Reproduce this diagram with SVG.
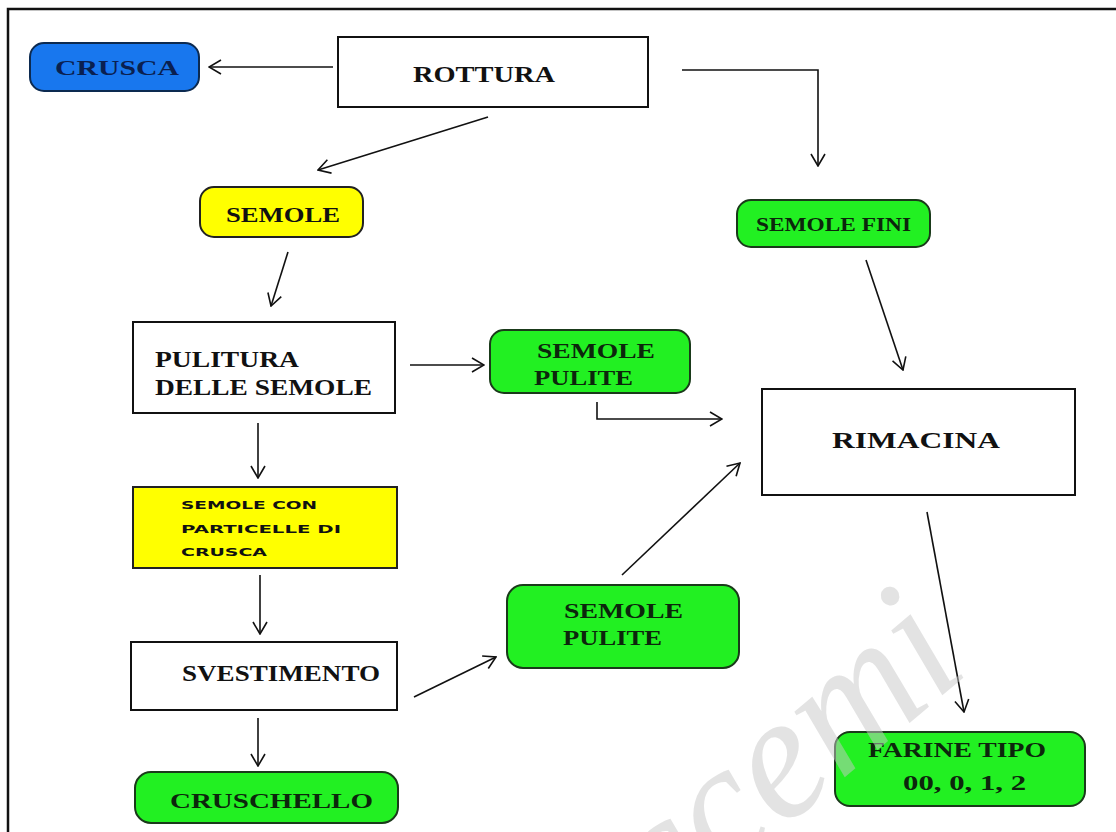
<svg xmlns="http://www.w3.org/2000/svg" width="1116" height="832" viewBox="0 0 1116 832">
<style>
.bg{fill:#ffffff}
.box{fill:#ffffff;stroke:#111;stroke-width:2}
.yel{fill:#ffff00;stroke:#222;stroke-width:2}
.grn{fill:#22f022;stroke:#1a3a1a;stroke-width:2}
.blu{fill:#1877ee;stroke:#0c2a50;stroke-width:2}
.t{font-family:"Liberation Serif","Times New Roman",serif;font-weight:bold;fill:#111}
.tg{font-family:"Liberation Serif","Times New Roman",serif;font-weight:bold;fill:#0c260c}
.tb{font-family:"Liberation Serif","Times New Roman",serif;font-weight:bold;fill:#0a2050}
.ts{font-family:"DejaVu Sans","Liberation Sans",sans-serif;font-weight:bold;fill:#111;font-size:11px}
.c{fill:none;stroke:#111;stroke-width:1.6}
.wm{font-family:"Liberation Serif","Times New Roman",serif;font-style:italic;fill:#c8c8c8;fill-opacity:0.5}
</style>
<defs>
<marker id="ah" markerUnits="userSpaceOnUse" viewBox="0 0 14 16" markerWidth="14" markerHeight="16" refX="13" refY="8" orient="auto">
<path d="M1,1 L13,8 L1,15" fill="none" stroke="#111" stroke-width="1.6"/>
</marker>
</defs>
<rect class="bg" x="0" y="0" width="1116" height="832"/>
<g id="frame">
<path d="M8,832 V9 H1116" fill="none" stroke="#111" stroke-width="2.5"/>
</g>
<g id="connectors">
<line class="c" x1="333" y1="67" x2="209" y2="67" marker-end="url(#ah)"/>
<line class="c" x1="488" y1="117" x2="318" y2="170" marker-end="url(#ah)"/>
<polyline class="c" points="682,70 818,70 818,166" marker-end="url(#ah)"/>
<line class="c" x1="288" y1="252" x2="271" y2="306" marker-end="url(#ah)"/>
<line class="c" x1="410" y1="365" x2="484" y2="365" marker-end="url(#ah)"/>
<polyline class="c" points="597,402 597,419 722,419" marker-end="url(#ah)"/>
<line class="c" x1="866" y1="260" x2="903" y2="370" marker-end="url(#ah)"/>
<line class="c" x1="258" y1="423" x2="258" y2="478" marker-end="url(#ah)"/>
<line class="c" x1="260" y1="575" x2="260" y2="634" marker-end="url(#ah)"/>
<line class="c" x1="622" y1="575" x2="740" y2="463" marker-end="url(#ah)"/>
<line class="c" x1="414" y1="697" x2="496" y2="657" marker-end="url(#ah)"/>
<line class="c" x1="258" y1="718" x2="258" y2="766" marker-end="url(#ah)"/>
<line class="c" x1="927" y1="512" x2="964" y2="712" marker-end="url(#ah)"/>
</g>
<g id="crusca">
<rect class="blu" x="30" y="43" width="169" height="48" rx="14"/>
<text class="tb" x="55" y="75" font-size="21" textLength="124" lengthAdjust="spacingAndGlyphs">CRUSCA</text>
</g>
<g id="rottura">
<rect class="box" x="338" y="37" width="310" height="70"/>
<text class="t" x="413" y="82" font-size="23" textLength="142" lengthAdjust="spacingAndGlyphs">ROTTURA</text>
</g>
<g id="semole">
<rect class="yel" x="200" y="187" width="163" height="50" rx="14"/>
<text class="t" x="226" y="222" font-size="21" textLength="114" lengthAdjust="spacingAndGlyphs">SEMOLE</text>
</g>
<g id="semole-fini">
<rect class="grn" x="737" y="200" width="193" height="47" rx="14"/>
<text class="tg" x="756" y="231" font-size="18" textLength="155" lengthAdjust="spacingAndGlyphs">SEMOLE FINI</text>
</g>
<g id="pulitura">
<rect class="box" x="133" y="322" width="262" height="91"/>
<text class="t" x="155" y="367" font-size="24" textLength="144" lengthAdjust="spacingAndGlyphs">PULITURA</text>
<text class="t" x="155" y="395" font-size="24" textLength="217" lengthAdjust="spacingAndGlyphs">DELLE SEMOLE</text>
</g>
<g id="semole-pulite-1">
<rect class="grn" x="490" y="330" width="200" height="63" rx="14"/>
<text class="tg" x="537" y="358" font-size="21" textLength="118" lengthAdjust="spacingAndGlyphs">SEMOLE</text>
<text class="tg" x="534" y="385" font-size="21" textLength="99" lengthAdjust="spacingAndGlyphs">PULITE</text>
</g>
<g id="rimacina">
<rect class="box" x="762" y="389" width="313" height="106"/>
<text class="t" x="832" y="448" font-size="23" textLength="168" lengthAdjust="spacingAndGlyphs">RIMACINA</text>
</g>
<g id="semole-con-particelle">
<rect class="yel" x="133" y="487" width="264" height="81"/>
<text class="ts" x="181" y="509" textLength="136" lengthAdjust="spacingAndGlyphs">SEMOLE CON</text>
<text class="ts" x="181" y="533" textLength="160" lengthAdjust="spacingAndGlyphs">PARTICELLE DI</text>
<text class="ts" x="181" y="556" textLength="86" lengthAdjust="spacingAndGlyphs">CRUSCA</text>
</g>
<g id="semole-pulite-2">
<rect class="grn" x="507" y="585" width="232" height="83" rx="16"/>
<text class="tg" x="564" y="618" font-size="21" textLength="119" lengthAdjust="spacingAndGlyphs">SEMOLE</text>
<text class="tg" x="563" y="645" font-size="21" textLength="99" lengthAdjust="spacingAndGlyphs">PULITE</text>
</g>
<g id="svestimento">
<rect class="box" x="131" y="642" width="266" height="68"/>
<text class="t" x="182" y="681" font-size="23" textLength="198" lengthAdjust="spacingAndGlyphs">SVESTIMENTO</text>
</g>
<g id="cruschello">
<rect class="grn" x="135" y="772" width="263" height="51" rx="16"/>
<text class="tg" x="170" y="808" font-size="22" textLength="203" lengthAdjust="spacingAndGlyphs">CRUSCHELLO</text>
</g>
<g id="farine">
<rect class="grn" x="835" y="732" width="250" height="74" rx="15"/>
<text class="tg" x="868" y="757" font-size="21" textLength="178" lengthAdjust="spacingAndGlyphs">FARINE TIPO</text>
<text class="tg" x="903" y="790" font-size="21" textLength="123" lengthAdjust="spacingAndGlyphs">00, 0, 1, 2</text>
</g>
<g id="watermark">
<text class="wm" x="0" y="0" font-size="180" transform="translate(665,928) rotate(-40)" textLength="400" lengthAdjust="spacingAndGlyphs">ccemi</text>
</g>
</svg>
